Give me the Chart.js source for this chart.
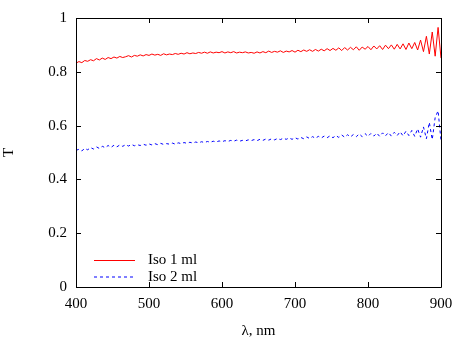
<!DOCTYPE html>
<html>
<head>
<meta charset="utf-8">
<script src="https://cdn.jsdelivr.net/npm/chart.js@4/dist/chart.umd.min.js"></script>
<style>
  html, body { margin: 0; padding: 0; background: #fff; }
  #wrap { width: 461px; height: 344px; }
</style>
</head>
<body>
<div id="wrap"><canvas id="c" width="461" height="344"></canvas></div>
<script>
// wavelength, nm
const wavelengths = [
  400,404,408,412,416,420,424,428,432,436,440,444,448,452,456,460,464,468,472,476,480,484,488,492,496,
  500,504,508,512,516,520,524,528,532,536,540,544,548,552,556,560,564,568,572,576,580,584,588,592,596,
  600,604,608,612,616,620,624,628,632,636,640,644,648,652,656,660,664,668,672,676,680,684,688,692,696,
  700,704,708,712,716,720,724,728,732,736,740,744,748,752,756,760,764,768,772,776,780,784,788,792,796,
  800,804,808,812,816,820,824,828,832,836,840,844,848,852,856,860,864,868,872,876,880,884,888,892,896,900
];

// transmittance, Iso 1 ml
const iso1 = [
  0.832,0.838,0.834,0.842,0.839,0.845,0.841,0.849,0.844,0.851,0.846,0.853,0.849,0.855,0.851,0.857,0.853,0.856,0.860,0.855,0.861,0.858,0.863,0.859,0.864,
  0.861,0.866,0.862,0.865,0.861,0.867,0.863,0.866,0.864,0.868,0.865,0.869,0.866,0.871,0.867,0.870,0.868,0.872,0.869,0.873,0.869,0.874,0.870,0.873,0.871,
  0.875,0.870,0.874,0.871,0.875,0.870,0.873,0.871,0.874,0.870,0.872,0.869,0.874,0.870,0.875,0.871,0.877,0.872,0.876,0.873,0.878,0.872,0.877,0.874,0.879,
  0.873,0.880,0.875,0.881,0.876,0.882,0.876,0.883,0.877,0.884,0.878,0.886,0.879,0.887,0.880,0.889,0.879,0.890,0.881,0.891,0.882,0.893,0.880,0.892,0.884,
  0.894,0.882,0.896,0.885,0.897,0.883,0.899,0.886,0.900,0.884,0.902,0.885,0.904,0.883,0.907,0.886,0.909,0.881,0.918,0.875,0.932,0.866,0.948,0.858,0.965,0.851
];

// transmittance, Iso 2 ml
const iso2 = [
  0.508,0.512,0.506,0.515,0.510,0.518,0.513,0.521,0.515,0.523,0.518,0.526,0.519,0.527,0.521,0.528,0.523,0.529,0.524,0.530,0.525,0.529,0.526,0.531,0.527,
  0.532,0.528,0.533,0.529,0.534,0.530,0.533,0.531,0.535,0.531,0.536,0.533,0.537,0.534,0.538,0.535,0.539,0.536,0.540,0.537,0.541,0.538,0.542,0.539,0.543,
  0.540,0.544,0.541,0.545,0.542,0.546,0.542,0.545,0.543,0.547,0.544,0.548,0.544,0.549,0.545,0.550,0.546,0.551,0.547,0.552,0.548,0.553,0.549,0.554,0.549,
  0.555,0.550,0.556,0.551,0.558,0.552,0.559,0.553,0.560,0.554,0.561,0.555,0.562,0.555,0.563,0.556,0.565,0.557,0.566,0.558,0.567,0.559,0.569,0.559,0.570,
  0.560,0.571,0.561,0.572,0.560,0.573,0.562,0.574,0.561,0.575,0.563,0.577,0.562,0.579,0.563,0.582,0.560,0.588,0.557,0.595,0.551,0.612,0.548,0.630,0.655,0.545
];

const xTicks = [400, 500, 600, 700, 800, 900];
const yTicks = [0, 0.2, 0.4, 0.6, 0.8, 1];
const seriesNames = ['Iso 1 ml', 'Iso 2 ml'];

const FONT = '"Liberation Serif", "Times New Roman", serif';
const FSIZE = 15;

function points(ys) {
  return wavelengths.map((x, i) => ({ x: x, y: ys[i] }));
}

// gnuplot-like frame: border, inward ticks on all four sides, legend inside
const framePlugin = {
  id: 'frame',
  afterDraw(chart) {
    const ctx = chart.ctx;
    const a = chart.chartArea;
    const xs = chart.scales.x, ys = chart.scales.y;
    ctx.save();
    ctx.strokeStyle = '#000';
    ctx.lineWidth = 1;
    ctx.beginPath();
    ctx.rect(Math.round(a.left) + 0.5, Math.round(a.top) + 0.5,
             Math.round(a.right - a.left), Math.round(a.bottom - a.top));
    ctx.stroke();
    const t = 5;
    ctx.beginPath();
    xTicks.forEach(v => {
      const px = Math.round(xs.getPixelForValue(v)) + 0.5;
      ctx.moveTo(px, a.bottom); ctx.lineTo(px, a.bottom - t);
      ctx.moveTo(px, a.top); ctx.lineTo(px, a.top + t);
    });
    yTicks.forEach(v => {
      const py = Math.round(ys.getPixelForValue(v)) + 0.5;
      ctx.moveTo(a.left, py); ctx.lineTo(a.left + t, py);
      ctx.moveTo(a.right, py); ctx.lineTo(a.right - t, py);
    });
    ctx.stroke();

    // legend
    ctx.font = FSIZE + 'px ' + FONT;
    ctx.textBaseline = 'middle';
    ctx.fillStyle = '#000';
    chart.data.datasets.forEach((ds, i) => {
      const y = 260 + i * 16.5 + 0.5;
      ctx.strokeStyle = ds.borderColor;
      ctx.setLineDash(ds.borderDash || []);
      ctx.beginPath();
      ctx.moveTo(94, y); ctx.lineTo(135, y);
      ctx.stroke();
      ctx.fillText(ds.label, 148, y);
    });
    ctx.restore();
  }
};

new Chart(document.getElementById('c'), {
  type: 'line',
  data: {
    datasets: [
      {
        label: seriesNames[0],
        data: points(iso1),
        borderColor: '#ff0000',
        borderWidth: 1,
        pointRadius: 0,
        tension: 0,
        fill: false
      },
      {
        label: seriesNames[1],
        data: points(iso2),
        borderColor: '#0000ff',
        borderWidth: 1,
        borderDash: [3, 3],
        pointRadius: 0,
        tension: 0,
        fill: false
      }
    ]
  },
  options: {
    responsive: false,
    animation: false,
    events: [],
    layout: { padding: { left: 0, right: 20, top: 16, bottom: 0 } },
    plugins: { legend: { display: false }, tooltip: { enabled: false } },
    scales: {
      x: {
        type: 'linear',
        min: 400, max: 900,
        afterBuildTicks: axis => { axis.ticks = xTicks.map(v => ({ value: v })); },
        afterFit: axis => { axis.height = 57; },
        grid: { display: false, drawTicks: false },
        border: { display: false },
        ticks: { color: '#000', padding: 8, font: { family: FONT, size: FSIZE } },
        title: { display: true, text: 'λ, nm', color: '#000', padding: { top: 5 },
                 font: { family: FONT, size: FSIZE } }
      },
      y: {
        min: 0, max: 1,
        afterBuildTicks: axis => { axis.ticks = yTicks.map(v => ({ value: v })); },
        afterFit: axis => { axis.width = 76; },
        grid: { display: false, drawTicks: false },
        border: { display: false },
        ticks: { color: '#000', padding: 9, font: { family: FONT, size: FSIZE },
                 callback: v => String(v) },
        title: { display: true, text: 'T', color: '#000', padding: 0,
                 font: { family: FONT, size: FSIZE } }
      }
    }
  },
  plugins: [framePlugin]
});
</script>
</body>
</html>
